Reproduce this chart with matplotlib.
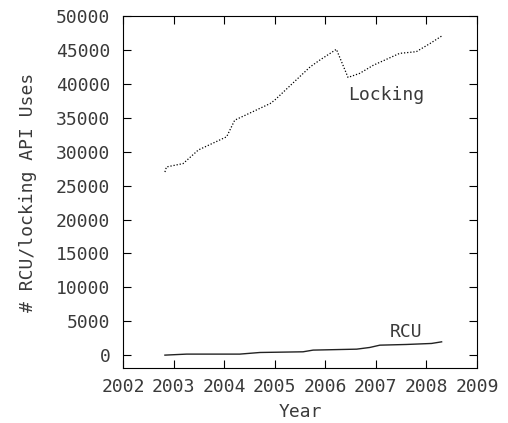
import matplotlib
matplotlib.use('Agg')
import matplotlib.pyplot as plt

# API usage counts over time (year, count)
lock_years = [2002.83, 2002.86, 2003.19, 2003.49, 2004.05, 2004.21, 2004.91, 2005.0,
              2005.70, 2005.89, 2006.22, 2006.45, 2006.68, 2006.95, 2007.47, 2007.80,
              2008.07, 2008.30]
lock_uses = [27000, 27750, 28250, 30250, 32200, 34650, 37100, 37600,
             42500, 43500, 45100, 40950, 41550, 42750, 44500, 44750,
             45950, 47050]

rcu_years = [2002.83, 2003.26, 2004.31, 2004.71, 2005.56, 2005.76, 2006.62, 2006.88,
             2007.08, 2007.60, 2008.10, 2008.30]
rcu_uses = [0, 150, 150, 390, 490, 740, 880, 1130, 1470, 1570, 1720, 1960]

year_ticks = list(range(2002, 2010))
use_ticks = list(range(0, 50001, 5000))

fs = 13
tc = '#3a3a3a'
plt.rcParams['font.family'] = 'DejaVu Sans Mono'
fig = plt.figure(figsize=(5.08, 4.23), dpi=100)
ax = fig.add_axes([0.242, 0.130, 0.697, 0.832])

ax.plot(lock_years, lock_uses, color='black', lw=0.9, linestyle=(0, (1, 1.5)))
ax.plot(rcu_years, rcu_uses, color='#222222', lw=1.0)

ax.text(2006.45, 38300, 'Locking', ha='left', va='center', fontsize=fs, color=tc)
ax.text(2007.28, 3450, 'RCU', ha='left', va='center', fontsize=fs, color=tc)

ax.set_xlim(2002, 2009)
ax.set_ylim(-1900, 50000)
ax.set_xticks(year_ticks)
ax.set_yticks(use_ticks)
ax.tick_params(direction='in', length=6, width=0.8, top=True, right=True,
               labelsize=fs, labelcolor=tc, pad=9)
ax.tick_params(axis='x', pad=7)
for s in ax.spines.values():
    s.set_linewidth(0.8)

ax.set_xlabel('Year', fontsize=fs, color=tc, labelpad=5)
ax.set_ylabel('# RCU/locking API Uses', fontsize=fs, color=tc, labelpad=14)

fig.savefig('out.png', dpi=100)
